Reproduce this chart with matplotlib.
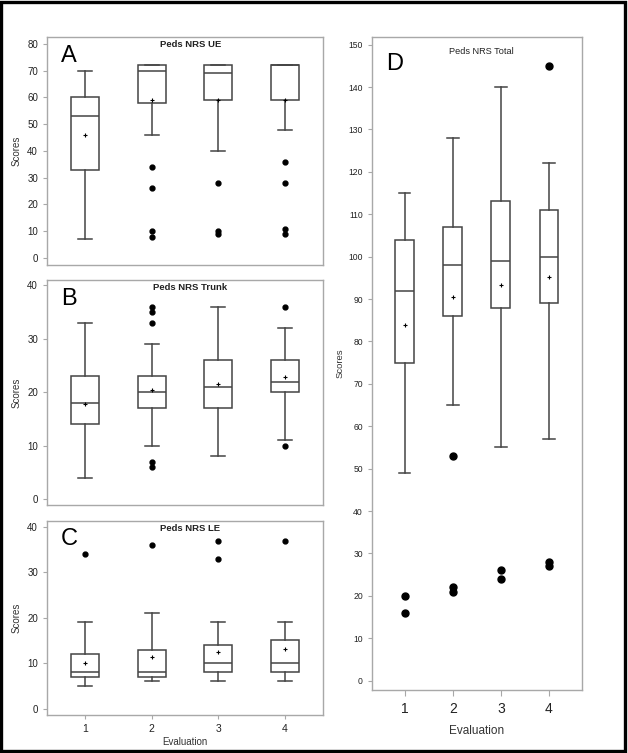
import matplotlib
matplotlib.use("Agg")
import matplotlib.pyplot as plt
from matplotlib.patches import Rectangle

plt.rcParams['font.family'] = ['Liberation Sans', 'DejaVu Sans']

evaluations = [1, 2, 3, 4]

# ---- Peds NRS UE
ue_whislo = [7, 46, 40, 48]
ue_q1 = [33, 58, 59, 59]
ue_med = [53, 70, 69, 72]
ue_q3 = [60, 72, 72, 72]
ue_whishi = [70, 72, 72, 72]
ue_mean = [46, 59, 59, 59]
ue_fliers = [[], [34, 26, 10, 8], [28, 10, 9], [36, 28, 11, 9]]

# ---- Peds NRS Trunk
tr_whislo = [4, 10, 8, 11]
tr_q1 = [14, 17, 17, 20]
tr_med = [18, 20, 21, 22]
tr_q3 = [23, 23, 26, 26]
tr_whishi = [33, 29, 36, 32]
tr_mean = [17.8, 20.5, 21.5, 22.8]
tr_fliers = [[], [36, 35, 33, 7, 6], [], [36, 10]]

# ---- Peds NRS LE
le_whislo = [5, 6, 6, 6]
le_q1 = [7, 7, 8, 8]
le_med = [8, 8, 10, 10]
le_q3 = [12, 13, 14, 15]
le_whishi = [19, 21, 19, 19]
le_mean = [10, 11.3, 12.5, 13.1]
le_fliers = [[34], [36], [37, 33], [37]]

# ---- Peds NRS Total
tot_whislo = [49, 65, 55, 57]
tot_q1 = [75, 86, 88, 89]
tot_med = [92, 98, 99, 100]
tot_q3 = [104, 107, 113, 111]
tot_whishi = [115, 128, 140, 122]
tot_mean = [83.8, 90.5, 93.2, 95.1]
tot_fliers = [[20, 16], [53, 22, 21], [26, 24], [145, 28, 27]]

edge = '#444444'
frame = '#a8a8a8'


def make_stats(lo, q1, med, q3, hi, mean, fl):
    stats = []
    for i in range(len(lo)):
        stats.append({'whislo': lo[i], 'q1': q1[i], 'med': med[i], 'q3': q3[i],
                      'whishi': hi[i], 'mean': mean[i], 'fliers': fl[i]})
    return stats


def draw_panel(ax, stats, ylim, yticks, flier_size, box_w, cap_w, ytick_size):
    ax.bxp(stats, positions=evaluations, widths=box_w, capwidths=cap_w,
           showmeans=True, patch_artist=True,
           boxprops=dict(facecolor='white', edgecolor=edge, linewidth=1.1),
           medianprops=dict(color=edge, linewidth=1.1),
           whiskerprops=dict(color=edge, linewidth=1.1),
           capprops=dict(color=edge, linewidth=1.1),
           flierprops=dict(marker='o', markerfacecolor='black', markeredgecolor='black',
                           markersize=flier_size),
           meanprops=dict(marker='+', markeredgecolor='black', markersize=3.5,
                          markeredgewidth=0.8))
    ax.set_ylim(ylim)
    ax.set_yticks(yticks)
    for s in ax.spines.values():
        s.set_color(frame)
        s.set_linewidth(1.0)
    ax.tick_params(axis='y', colors=frame, labelcolor='#222222', length=3,
                   width=0.8, labelsize=ytick_size)


def label_panel(ax, title, letter, title_kw, letter_pos):
    ax.text(0.52, 0.985, title, transform=ax.transAxes, ha='center', va='top',
            color='#222222', **title_kw)
    ax.text(letter_pos[0], letter_pos[1], letter, transform=ax.transAxes,
            ha='left', va='top', fontsize=17, color='black')


fig = plt.figure(figsize=(6.28, 7.53), dpi=100)

axA = fig.add_axes([0.0748, 0.6481, 0.4395, 0.3028])
axB = fig.add_axes([0.0748, 0.3293, 0.4395, 0.2989])
axC = fig.add_axes([0.0748, 0.0505, 0.4395, 0.2576])
axD = fig.add_axes([0.5924, 0.0837, 0.3344, 0.8672])

draw_panel(axA, make_stats(ue_whislo, ue_q1, ue_med, ue_q3, ue_whishi, ue_mean, ue_fliers),
           (-2.6, 82.6), range(0, 81, 10), 3.5, 0.42, 0.21, 7)
draw_panel(axB, make_stats(tr_whislo, tr_q1, tr_med, tr_q3, tr_whishi, tr_mean, tr_fliers),
           (-1.1, 41.0), range(0, 41, 10), 3.5, 0.42, 0.21, 7)
draw_panel(axC, make_stats(le_whislo, le_q1, le_med, le_q3, le_whishi, le_mean, le_fliers),
           (-1.4, 41.3), range(0, 41, 10), 3.5, 0.42, 0.21, 7)
draw_panel(axD, make_stats(tot_whislo, tot_q1, tot_med, tot_q3, tot_whishi, tot_mean, tot_fliers),
           (-2.2, 151.8), range(0, 151, 10), 5, 0.39, 0.24, 6.2)

small_title = dict(fontsize=6.8, fontweight='bold')
label_panel(axA, 'Peds NRS UE', 'A', small_title, (0.05, 0.965))
label_panel(axB, 'Peds NRS Trunk', 'B', small_title, (0.05, 0.965))
label_panel(axC, 'Peds NRS LE', 'C', small_title, (0.05, 0.965))
label_panel(axD, 'Peds NRS Total', 'D', dict(fontsize=6.6), (0.065, 0.975))

for ax in [axA, axB, axC]:
    ax.set_xlim(0.43, 4.57)
    ax.set_ylabel('Scores', fontsize=7, color='#333333', labelpad=4)
for ax in [axA, axB]:
    ax.set_xticks([])
axC.set_xticks(evaluations)
axC.tick_params(axis='x', colors=frame, labelcolor='#222222', length=3, width=0.8, labelsize=7.5)
axC.set_xlabel('Evaluation', fontsize=7, color='#333333', labelpad=2)

axD.set_xlim(0.32, 4.69)
axD.set_xticks(evaluations)
axD.tick_params(axis='x', colors=frame, labelcolor='#222222', length=4, width=0.8,
                labelsize=10, pad=5)
axD.set_xlabel('Evaluation', fontsize=8.5, color='#333333', labelpad=6)
axD.set_ylabel('Scores', fontsize=6.8, color='#333333', labelpad=3)

fig.patches.append(Rectangle((0.002, 0.002), 0.994, 0.995, transform=fig.transFigure,
                             fill=False, edgecolor='black', linewidth=2.4))

fig.savefig('out.png', dpi=100)
